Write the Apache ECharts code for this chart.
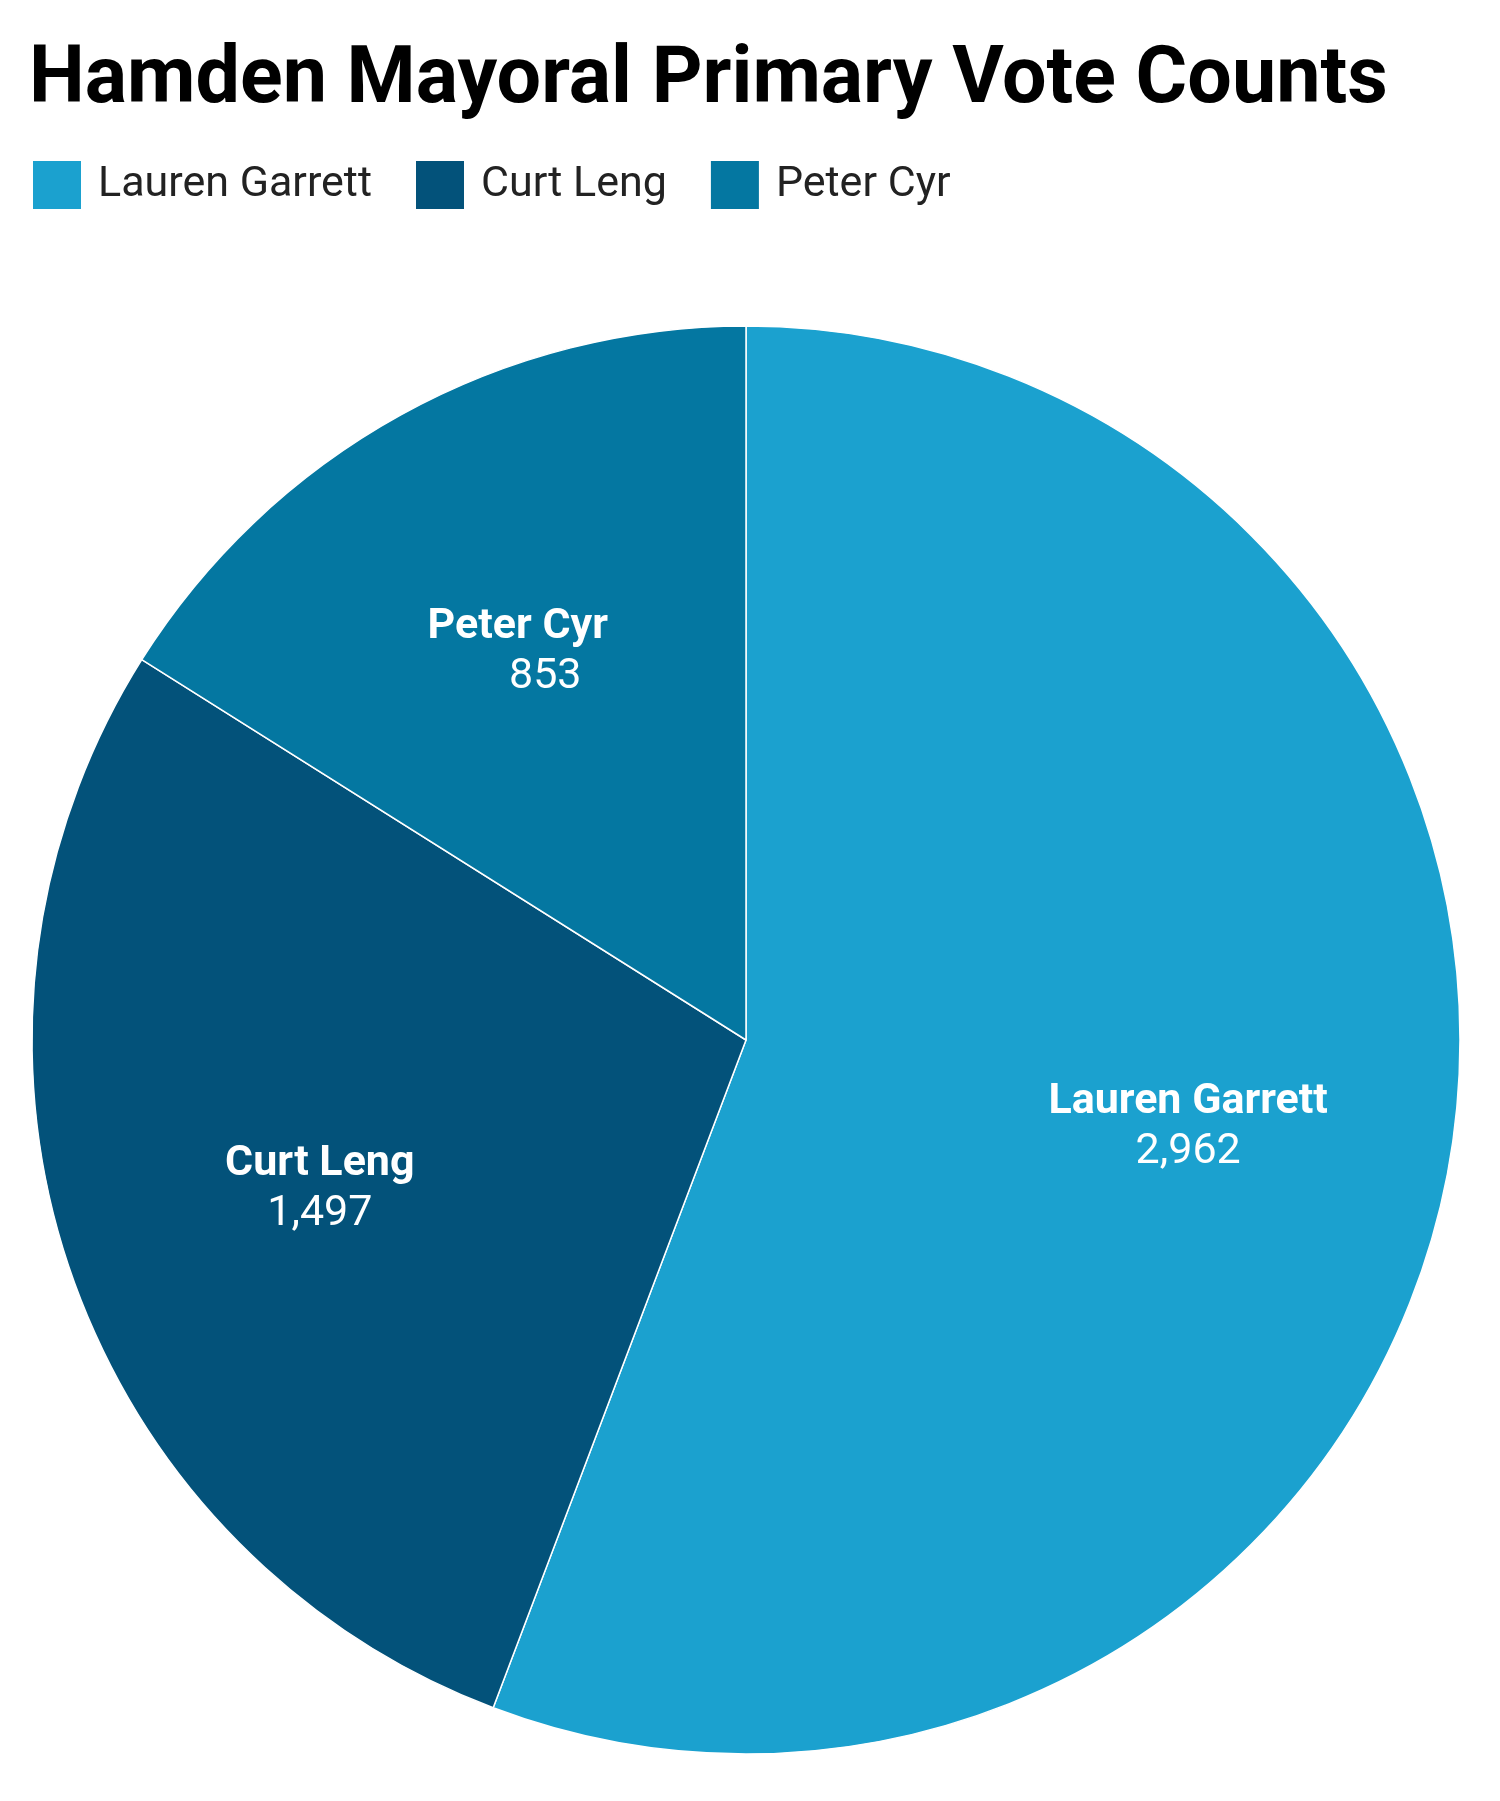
<!DOCTYPE html>
<html>
<head>
<meta charset="utf-8">
<script src="https://cdn.jsdelivr.net/npm/echarts@6/dist/echarts.min.js"></script>
<style>
  html, body { margin: 0; padding: 0; background: #ffffff; }
  #container { width: 1500px; height: 1801px; }
</style>
</head>
<body>
<div id="container"></div>
<script>
var candidates = ["Lauren Garrett", "Curt Leng", "Peter Cyr"];
var votes = [2962, 1497, 853];
var colors = ["#1ba1cf", "#03527a", "#0477a1"];

var dom = document.getElementById("container");
var myChart = echarts.init(dom, null, { renderer: "canvas" });

var pieData = candidates.map(function (name, i) {
    return { name: name, value: votes[i], itemStyle: { color: colors[i] } };
});

var labelData = candidates.map(function (name, i) {
    var item = { name: name, value: votes[i] };
    if (name === "Peter Cyr") {
        // value line sits a bit to the right in the original
        item.label = {
            offset: [-11, 6],
            rich: { v: { padding: [0, 0, 0, 55] } }
        };
    }
    return item;
});

var option = {
    backgroundColor: "#ffffff",
    title: {
        text: "Hamden Mayoral Primary Vote Counts",
        left: 24,
        top: 38,
        textStyle: {
            fontFamily: "Roboto",
            fontWeight: "bold",
            fontSize: 79,
            color: "#000000"
        }
    },
    legend: {
        left: 26,
        top: 154,
        itemWidth: 50,
        itemHeight: 50,
        itemGap: 42,
        icon: "rect",
        data: candidates,
        textStyle: {
            fontFamily: "Roboto",
            fontSize: 43,
            color: "#222222",
            padding: [0, 0, 0, 11]
        }
    },
    series: [
        {
            // visible slices
            type: "pie",
            center: [746, 1040],
            radius: [0, 714],
            startAngle: 90,
            clockwise: true,
            avoidLabelOverlap: false,
            label: { show: false },
            labelLine: { show: false },
            emphasis: { disabled: true },
            itemStyle: { borderColor: "#ffffff", borderWidth: 1.5 },
            data: pieData
        },
        {
            // transparent ring just to place labels further out
            type: "pie",
            center: [746, 1040],
            radius: [179, 714],
            startAngle: 90,
            clockwise: true,
            silent: true,
            avoidLabelOverlap: false,
            itemStyle: { color: "rgba(0,0,0,0)", borderWidth: 0 },
            labelLine: { show: false },
            emphasis: { disabled: true },
            label: {
                show: true,
                position: "inside",
                offset: [0, 6],
                formatter: function (p) {
                    return "{n|" + p.name + "}\n{v|" + p.value.toLocaleString("en-US") + "}";
                },
                rich: {
                    n: {
                        fontFamily: "Roboto",
                        fontWeight: "bold",
                        fontSize: 43,
                        color: "#ffffff",
                        lineHeight: 50
                    },
                    v: {
                        fontFamily: "Roboto",
                        fontSize: 43,
                        color: "#ffffff",
                        lineHeight: 50
                    }
                }
            },
            data: labelData
        }
    ]
};

myChart.setOption(option);
window.addEventListener("resize", myChart.resize);
</script>
</body>
</html>
